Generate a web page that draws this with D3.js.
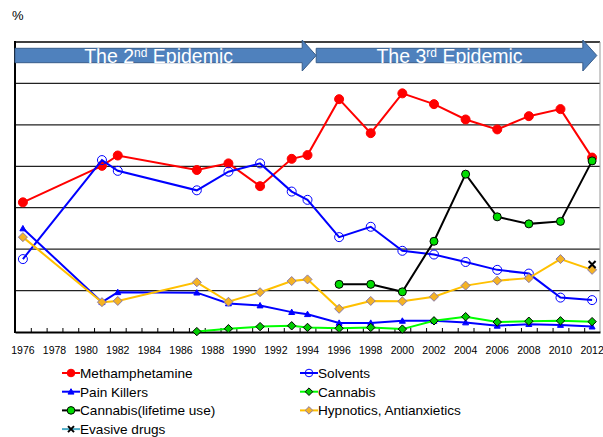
<!DOCTYPE html>
<html>
<head>
<meta charset="utf-8">
<script src="https://cdn.jsdelivr.net/npm/d3@7"></script>
<style>
  body { margin: 0; background: #fff; }
  svg { display: block; font-family: Arial, "Liberation Sans", sans-serif; }
</style>
</head>
<body>
<svg class="chart"></svg>
<script>
// data
var surveyYears = [1976, 1981, 1982, 1987, 1989, 1991, 1993, 1994, 1996, 1998, 2000, 2002, 2004, 2006, 2008, 2010, 2012];
var methamphetamine = [3.13, 4.01, 4.26, 3.91, 4.07, 3.52, 4.18, 4.27, 5.62, 4.80, 5.76, 5.50, 5.13, 4.89, 5.21, 5.38, 4.21];
var solvents = [1.76, 4.15, 3.89, 3.42, 3.87, 4.07, 3.39, 3.19, 2.29, 2.54, 1.96, 1.87, 1.69, 1.50, 1.41, 0.83, 0.77];
var painKillers = [2.50, 0.72, 0.96, 0.95, 0.69, 0.64, 0.48, 0.43, 0.22, 0.22, 0.27, 0.27, 0.23, 0.15, 0.19, 0.17, 0.13];
var cannabis = [null, null, null, 0.01, 0.08, 0.13, 0.15, 0.11, 0.09, 0.11, 0.07, 0.27, 0.37, 0.24, 0.26, 0.27, 0.25];
var cannabisLifetime = [null, null, null, null, null, null, null, null, 1.15, 1.15, 0.97, 2.19, 3.81, 2.78, 2.61, 2.67, 4.13];
var hypnotics = [2.29, 0.72, 0.75, 1.20, 0.73, 0.96, 1.23, 1.27, 0.56, 0.75, 0.74, 0.85, 1.12, 1.24, 1.30, 1.76, 1.50];
var evasive = [null, null, null, null, null, null, null, null, null, null, null, null, null, null, null, null, 1.63];
var tickYears = d3.range(1976, 2013, 2);
var epidemics = [
  { label: 'The 2', sup: 'nd', rest: ' Epidemic', from: 1975.5, to: 1994.55 },
  { label: 'The 3', sup: 'rd', rest: ' Epidemic', from: 1994.55, to: 2012.3 }
];

// chart
var width = 603;
var height = 437;
var plot = { left: 15, right: 600, top: 42, bottom: 332 };

var chart = d3.select('.chart')
    .attr('width', width)
    .attr('height', height)

var x = d3.scaleLinear()
    .domain([1975.5, 2012.5])
    .range([plot.left, plot.right])

var y = d3.scaleLinear()
    .domain([0, 7])
    .range([plot.bottom, plot.top])

// grid lines
chart.append('g')
  .selectAll('line')
  .data(d3.range(1, 7))
  .enter().append('line')
    .attr('x1', plot.left)
    .attr('x2', plot.right)
    .attr('y1', function(d){ return y(d); })
    .attr('y2', function(d){ return y(d); })
    .attr('stroke', '#222')
    .attr('stroke-width', 1.3)

// frame: top black, right grey
chart.append('line')
    .attr('x1', plot.left).attr('x2', plot.right)
    .attr('y1', plot.top).attr('y2', plot.top)
    .attr('stroke', '#000').attr('stroke-width', 1.3)
chart.append('line')
    .attr('x1', plot.right).attr('x2', plot.right)
    .attr('y1', plot.top).attr('y2', plot.bottom)
    .attr('stroke', '#999').attr('stroke-width', 1)

// x axis: ticks between categories pointing inward, labels on even years
var xAxis = d3.axisBottom(x)
    .tickValues(d3.range(1976.5, 2012, 1))
    .tickSizeInner(-4)
    .tickSizeOuter(0)
    .tickFormat('')

chart.append('g')
    .attr('transform', 'translate(0,' + plot.bottom + ')')
    .call(xAxis)
    .call(function(g){
      g.select('.domain').attr('stroke', '#000').attr('stroke-width', 2);
      g.selectAll('.tick line').attr('stroke', '#000');
    })

chart.append('g')
  .selectAll('text')
  .data(tickYears)
  .enter().append('text')
    .attr('x', function(d){ return x(d); })
    .attr('y', 354)
    .attr('text-anchor', 'middle')
    .attr('font-size', '10.5px')
    .text(function(d){ return d; })

// y axis line
chart.append('line')
    .attr('x1', plot.left).attr('x2', plot.left)
    .attr('y1', plot.top - 1).attr('y2', plot.bottom + 1)
    .attr('stroke', '#000').attr('stroke-width', 2)

chart.append('text')
    .attr('x', 12)
    .attr('y', 20)
    .attr('font-size', '13px')
    .text('%')

// series
var series = [
  { name: 'Methamphetamine', values: methamphetamine, line: '#ff0000', marker: 'circle', fill: '#ff0000', stroke: '#ff0000', size: 4.5 },
  { name: 'Solvents', values: solvents, line: '#0000ff', marker: 'circle', fill: 'none', stroke: '#0000ff', size: 4.5 },
  { name: 'Pain Killers', values: painKillers, line: '#0000ff', marker: 'triangle', fill: '#0000ff', stroke: '#0000ff', size: 3 },
  { name: 'Cannabis', values: cannabis, line: '#00ff00', marker: 'diamond', fill: '#00cc00', stroke: '#000', size: 4.2 },
  { name: 'Cannabis(lifetime use)', values: cannabisLifetime, line: '#000000', marker: 'circle', fill: '#00dd00', stroke: '#000', size: 4 },
  { name: 'Hypnotics, Antianxietics', values: hypnotics, line: '#ffc000', marker: 'diamond', fill: '#f5b323', stroke: '#8a7aa8', size: 4.5 },
  { name: 'Evasive drugs', values: evasive, line: '#4bacc6', marker: 'cross', fill: 'none', stroke: '#000', size: 3.5 }
];

function markerPath(type, s) {
  if (type === 'diamond') return 'M0,' + (-s) + 'L' + s + ',0L0,' + s + 'L' + (-s) + ',0Z';
  if (type === 'triangle') return 'M0,' + (-s) + 'L' + s + ',' + (s * 0.8) + 'L' + (-s) + ',' + (s * 0.8) + 'Z';
  if (type === 'cross') return 'M' + (-s) + ',' + (-s) + 'L' + s + ',' + s + 'M' + s + ',' + (-s) + 'L' + (-s) + ',' + s;
  return null;
}

function drawMarker(g, s, cx, cy) {
  if (s.marker === 'circle') {
    g.append('circle')
      .attr('cx', cx).attr('cy', cy).attr('r', s.size)
      .attr('fill', s.fill).attr('stroke', s.stroke).attr('stroke-width', 1)
  } else {
    g.append('path')
      .attr('transform', 'translate(' + cx + ',' + cy + ')')
      .attr('d', markerPath(s.marker, s.size))
      .attr('fill', s.fill).attr('stroke', s.stroke)
      .attr('stroke-width', s.marker === 'cross' ? 2 : 1)
  }
}

var line = d3.line()
    .defined(function(d){ return d.v !== null; })
    .x(function(d){ return x(d.year); })
    .y(function(d){ return y(d.v); })

series.forEach(function(s){
  var pts = surveyYears.map(function(yr, i){ return { year: yr, v: s.values[i] }; });
  var g = chart.append('g');
  g.append('path')
    .datum(pts)
    .attr('d', line)
    .attr('fill', 'none')
    .attr('stroke', s.line)
    .attr('stroke-width', 2)
  pts.filter(function(d){ return d.v !== null; }).forEach(function(d){
    drawMarker(g, s, x(d.year), y(d.v));
  });
});

// epidemic arrows
var body = { top: 48.3, bottom: 62.7 };
var head = { top: 40, bottom: 71, len: 14 };

epidemics.forEach(function(e, i){
  var x0 = x(e.from), x1 = x(e.to), xh = x1 - head.len;
  var g = chart.append('g');
  g.append('path')
    .attr('d', 'M' + x0 + ',' + body.top + 'L' + xh + ',' + body.top + 'L' + xh + ',' + head.top +
      'L' + x1 + ',' + ((head.top + head.bottom) / 2) + 'L' + xh + ',' + head.bottom +
      'L' + xh + ',' + body.bottom + 'L' + x0 + ',' + body.bottom + 'Z')
    .attr('fill', '#4f81bd')
    .attr('stroke', '#385d8a')
    .attr('stroke-width', 1)
  chart.append('clipPath')
      .attr('id', 'clip' + i)
    .append('rect')
      .attr('x', x0).attr('y', body.top)
      .attr('width', xh - x0).attr('height', body.bottom - body.top + 0.5)
  var t = g.append('text')
    .attr('clip-path', 'url(#clip' + i + ')')
    .attr('x', (x0 + xh) / 2)
    .attr('y', 63)
    .attr('text-anchor', 'middle')
    .attr('fill', '#fff')
    .attr('font-size', '19.5px')
  t.append('tspan').text(e.label)
  t.append('tspan').attr('dy', -6).attr('font-size', '12px').text(e.sup)
  t.append('tspan').attr('dy', 6).text(e.rest)
});

// legend
var legend = chart.append('g')
  .selectAll('g')
  .data(series)
  .enter().append('g')
    .attr('transform', function(d, i){
      var col = (i < 6) ? i % 2 : 0;
      var row = (i < 6) ? Math.floor(i / 2) : 3;
      return 'translate(' + (col ? 300 : 62) + ',' + (373 + row * 18.7) + ')';
    })

legend.each(function(s){
  var g = d3.select(this);
  g.append('line')
    .attr('x1', 0).attr('x2', 18)
    .attr('stroke', s.line).attr('stroke-width', 2)
  var m = Object.assign({}, s, { size: s.marker === 'cross' ? 3 : Math.min(s.size, 3.8) });
  drawMarker(g, m, 9, 0);
  g.append('text')
    .attr('x', 18)
    .attr('y', 5)
    .attr('font-size', '13.6px')
    .text(s.name)
});
</script>
</body>
</html>
